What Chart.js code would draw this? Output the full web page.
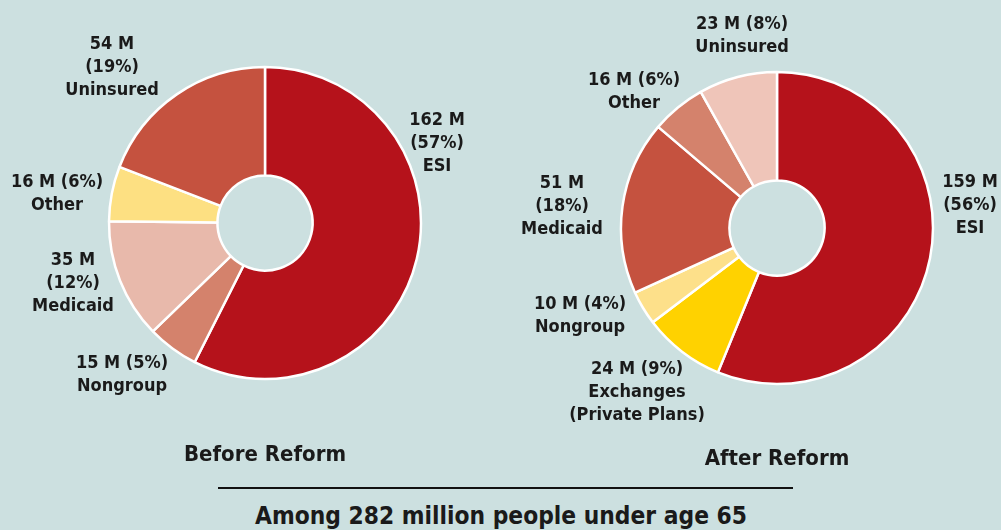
<!DOCTYPE html>
<html>
<head>
  <meta charset="UTF-8">
  <title>Coverage Before and After Reform</title>
  <script src="https://cdn.jsdelivr.net/npm/chart.js"></script>
  <style>
    html, body {
      margin: 0;
      padding: 0;
      width: 1001px;
      height: 530px;
      overflow: hidden;
      background-color: #cce0e0;
      font-family: "Liberation Sans Narrow", "DejaVu Sans Condensed", "Liberation Sans", sans-serif;
      color: #1a1a1a;
    }
    .box { position: absolute; top: 0; }
    #leftBox { left: 0; width: 500px; height: 446px; }
    #rightBox { left: 500px; width: 501px; height: 456px; }
    .caption {
      position: absolute;
      font-weight: bold;
      font-size: 22px;
      text-align: center;
      white-space: nowrap;
      transform: translate(-50%, -50%);
    }
    .rule {
      position: absolute;
      left: 218px;
      top: 487px;
      width: 575px;
      height: 2px;
      background: #111111;
    }
  </style>
</head>
<body>
  <div id="leftBox" class="box"><canvas id="beforeChart"></canvas></div>
  <div id="rightBox" class="box"><canvas id="afterChart"></canvas></div>
  <div class="caption" style="left:265px; top:453px;">Before Reform</div>
  <div class="caption" style="left:777px; top:457px;">After Reform</div>
  <div class="rule"></div>
  <div class="caption" style="left:501px; top:515px; font-size:24.3px;">Among 282 million people under age 65</div>

  <script>
    // Before reform (millions), clockwise from 12 o'clock
    const beforeCategories = ['ESI', 'Nongroup', 'Medicaid', 'Other', 'Uninsured'];
    const beforeValues = [162, 15, 35, 16, 54];
    const beforePercents = [57, 5, 12, 6, 19];

    // After reform (millions)
    const afterCategories = ['ESI', 'Exchanges', 'Nongroup', 'Medicaid', 'Other', 'Uninsured'];
    const afterValues = [159, 24, 10, 51, 16, 23];
    const afterPercents = [56, 9, 4, 18, 6, 8];

    // label text lines
    const beforeLabels = [
      ['162 M', '(57%)', 'ESI'],
      ['15 M (5%)', 'Nongroup'],
      ['35 M', '(12%)', 'Medicaid'],
      ['16 M (6%)', 'Other'],
      ['54 M', '(19%)', 'Uninsured']
    ];
    const afterLabels = [
      ['159 M', '(56%)', 'ESI'],
      ['24 M (9%)', 'Exchanges', '(Private Plans)'],
      ['10 M (4%)', 'Nongroup'],
      ['51 M', '(18%)', 'Medicaid'],
      ['16 M (6%)', 'Other'],
      ['23 M (8%)', 'Uninsured']
    ];

    const beforeColors = ['#b5121b', '#d4826c', '#e8b9ab', '#fde082', '#c5523f'];
    const afterColors = ['#b5121b', '#ffd200', '#fde08a', '#c5523f', '#d4826c', '#efc5b9'];

    // label anchors relative to the doughnut centre (layout only)
    const beforeLabelPos = [[172, -103], [-143, 140], [-192, 37], [-208, -41], [-153, -179]];
    const afterLabelPos = [[193, -46], [-140, 141], [-197, 76], [-215, -45], [-143, -148], [-35, -204]];

    const sliceLabels = {
      id: 'sliceLabels',
      afterDatasetsDraw(chart, args, opts) {
        const arc = chart.getDatasetMeta(0).data[0];
        const ctx = chart.ctx;
        ctx.save();
        ctx.font = 'bold 18px "Liberation Sans Narrow", "DejaVu Sans Condensed", sans-serif';
        ctx.fillStyle = '#1a1a1a';
        ctx.textAlign = 'center';
        ctx.textBaseline = 'middle';
        opts.lines.forEach((lines, i) => {
          const [dx, dy] = opts.pos[i];
          lines.forEach((t, j) => {
            ctx.fillText(t, arc.x + dx, arc.y + dy + j * 23);
          });
        });
        ctx.restore();
      }
    };

    function makeDoughnut(id, cats, vals, colors, lines, pos, padLeft) {
      new Chart(document.getElementById(id), {
        type: 'doughnut',
        data: {
          labels: cats,
          datasets: [{
            data: vals,
            backgroundColor: colors,
            borderColor: '#ffffff',
            borderWidth: 2.5,
            hoverOffset: 0
          }]
        },
        options: {
          responsive: true,
          maintainAspectRatio: false,
          animation: false,
          radius: 156,
          cutout: '30.5%',
          layout: { padding: { left: padLeft } },
          plugins: {
            legend: { display: false },
            tooltip: { enabled: false },
            sliceLabels: { lines: lines, pos: pos }
          }
        },
        plugins: [sliceLabels]
      });
    }

    makeDoughnut('beforeChart', beforeCategories, beforeValues, beforeColors, beforeLabels, beforeLabelPos, 30);
    makeDoughnut('afterChart', afterCategories, afterValues, afterColors, afterLabels, afterLabelPos, 53);
  </script>
</body>
</html>
